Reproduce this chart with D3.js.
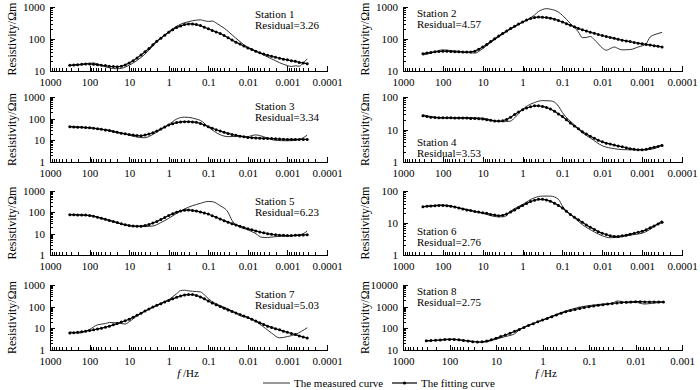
<!DOCTYPE html>
<html>
<head>
<meta charset="utf-8">
<script src="https://cdn.jsdelivr.net/npm/d3@7"></script>
<style>
    body { margin: 0; background: #fff; }
    svg { display: block; font-family: "Liberation Serif", "Times New Roman", serif; }
    .axis path, .axis line { stroke: #000; stroke-width: 1px; shape-rendering: crispEdges; }
    .axis text { font-size: 11px; fill: #000; font-family: "Liberation Serif", "Times New Roman", serif; }
    .label { font-size: 11px; fill: #000; }
</style>
</head>
<body>
<div id="chart"></div>
<script>

// Frequencies (Hz), 10 per decade, shared by the fitting curves
const freqs = [316, 251, 200, 158, 126, 100, 79.4, 63.1, 50.1, 39.8, 31.6, 25.1, 20, 15.8, 12.6, 10, 7.94, 6.31, 5.01, 3.98,
    3.16, 2.51, 2, 1.58, 1.26, 1, 0.794, 0.631, 0.501, 0.398, 0.316, 0.251, 0.2, 0.158, 0.126, 0.1, 0.0794, 0.0631, 0.0501, 0.0398,
    0.0316, 0.0251, 0.02, 0.0158, 0.0126, 0.01, 0.00794, 0.00631, 0.00501, 0.00398, 0.00316, 0.00251, 0.002, 0.00158, 0.00126,
    0.001, 0.000794, 0.000631, 0.000501, 0.000398, 0.000316];

// Tick labels
const xTicksWide = [1000, 100, 10, 1, 0.1, 0.01, 0.001, 0.0001];
const xTicksP8 = [1000, 100, 10, 1, 0.1, 0.01, 0.001];
const stations = ["Station 1", "Station 2", "Station 3", "Station 4", "Station 5", "Station 6", "Station 7", "Station 8"];
const residuals = ["3.26", "4.57", "3.34", "3.53", "6.23", "2.76", "5.03", "2.75"];

// Fitting curves (resistivity, Ωm) at freqs
const fit1 = [15.1, 15.5, 15.8, 16.2, 16.6, 16.6, 16.2, 15.8, 15.1, 14.8, 14.1, 13.8, 13.5, 14.1, 15.5, 17.8, 20.9, 25.7, 31.6, 39.8,
    50.1, 66.1, 85.1, 105, 132, 162, 195, 229, 257, 282, 295, 295, 282, 263, 234, 209, 186, 166, 148, 129,
    110, 93.3, 79.4, 69.2, 60.3, 52.5, 46.8, 41.7, 37.2, 33.9, 30.9, 28.8, 26.9, 25.1, 23.4, 22.4, 20.9, 20, 18.6, 17.8, 17];
const fit2 = [34.7, 36.3, 38, 39.8, 40.7, 41.7, 41.7, 40.7, 39.8, 39.8, 38.9, 38.9, 38.9, 41.7, 47.9, 56.2, 67.6, 83.2, 102, 123,
    148, 178, 214, 251, 295, 339, 389, 437, 468, 490, 479, 468, 447, 417, 380, 339, 302, 269, 240, 214,
    195, 178, 162, 151, 138, 129, 120, 112, 105, 97.7, 91.2, 87.1, 83.2, 77.6, 74.1, 70.8, 67.6, 64.6, 61.7, 58.9, 56.2];
const fit3 = [42.7, 41.7, 40.7, 39.8, 38.9, 38, 36.3, 33.9, 32.4, 30.2, 28.2, 25.7, 23.4, 21.4, 20, 18.6, 17.4, 16.6, 16.2, 17.4,
    19.5, 22.4, 26.9, 33.1, 41.7, 51.3, 58.9, 66.1, 70.8, 72.4, 72.4, 70.8, 67.6, 60.3, 51.3, 42.7, 36.3, 30.9, 26.9, 23.4,
    20.9, 18.6, 17, 15.5, 14.5, 13.5, 13.2, 12.9, 12.6, 12.3, 12.3, 12, 11.7, 11.5, 11.2, 11, 11, 11, 11, 11, 11];
const fit4 = [26.3, 25.1, 24, 23.4, 22.9, 22.9, 22.9, 22.9, 22.4, 22.4, 22.4, 22.4, 21.9, 21.9, 21.4, 20.9, 20, 19.1, 18.2, 18.2,
    18.6, 20.4, 24, 28.8, 34.7, 40.7, 45.7, 50.1, 53.7, 53.7, 51.3, 47.9, 42.7, 36.3, 30.2, 25.1, 20, 15.8, 12.9, 10.5,
    8.51, 7.24, 6.17, 5.37, 4.68, 4.17, 3.8, 3.55, 3.31, 3.09, 2.95, 2.75, 2.57, 2.45, 2.4, 2.4, 2.45, 2.63, 2.82, 3.02, 3.24];
const fit5 = [77.6, 77.6, 75.9, 75.9, 74.1, 70.8, 66.1, 58.9, 52.5, 46.8, 41.7, 37.2, 33.1, 28.8, 26.3, 24, 22.9, 22.4, 22.4, 24,
    26.9, 31.6, 37.2, 45.7, 57.5, 70.8, 85.1, 102, 117, 126, 129, 123, 115, 105, 93.3, 83.2, 69.2, 58.9, 49, 40.7,
    34.7, 29.5, 25.7, 22.4, 19.5, 17, 15.1, 13.5, 12, 11, 10, 9.33, 8.91, 8.51, 8.32, 8.13, 8.13, 8.32, 8.51, 8.71, 8.91];
const fit6 = [32.4, 33.1, 33.9, 34.7, 35.5, 35.5, 34.7, 33.1, 31.6, 29.5, 27.5, 25.7, 24.5, 22.9, 21.9, 20.9, 20, 18.6, 17.8, 17,
    17.4, 19.1, 21.9, 25.7, 30.2, 35.5, 40.7, 46.8, 51.3, 55, 55, 52.5, 47.9, 41.7, 35.5, 29.5, 23.4, 18.6, 15.1, 12.6,
    10.5, 8.71, 7.41, 6.31, 5.37, 4.79, 4.37, 3.98, 3.8, 3.8, 3.98, 4.17, 4.47, 4.79, 5.13, 5.5, 6.17, 7.08, 8.13, 9.33, 10.5];
const fit7 = [6.17, 6.31, 6.61, 6.92, 7.41, 7.94, 8.51, 9.33, 10.2, 11.2, 12.6, 14.5, 16.6, 19.5, 22.4, 26.3, 32.4, 39.8, 50.1, 63.1,
    77.6, 95.5, 115, 138, 166, 195, 229, 269, 309, 347, 363, 363, 331, 282, 229, 182, 148, 123, 102, 85.1,
    70.8, 60.3, 51.3, 43.7, 37.2, 31.6, 26.3, 21.9, 18.2, 15.1, 12.6, 11, 9.55, 8.51, 7.41, 6.61, 5.75, 5.13, 4.47, 3.98, 3.55];
const fit8 = [26.9, 27.5, 28.2, 28.8, 30.2, 30.9, 30.9, 29.5, 27.5, 25.7, 24, 23.4, 24, 25.7, 29.5, 34.7, 41.7, 49, 58.9, 72.4,
    89.1, 110, 135, 162, 200, 240, 288, 347, 417, 501, 589, 661, 741, 832, 912, 1000, 1070, 1150, 1230, 1320,
    1410, 1480, 1550, 1620, 1660, 1700, 1700, 1660, 1660, 1660, 1660, 1660];

// Measured curves: own frequencies + resistivity
const measF1 = freqs;
const meas1 = [14.8, 15.1, 15.5, 15.8, 16.6, 17.4, 17.8, 16.6, 14.8, 13.5, 12.6, 12, 11.7, 12, 13.2, 15.1, 17.8, 21.4, 26.3, 33.9,
    44.7, 60.3, 83.2, 107, 135, 170, 209, 251, 288, 324, 347, 372, 389, 398, 372, 355, 363, 316, 263, 219,
    174, 135, 105, 83.2, 66.1, 55, 47.9, 41.7, 36.3, 31.6, 27.5, 24, 20.9, 18.2, 16.2, 14.8, 13.8, 14.5, 14.1, 17.8, 24];
const measF2 = [316, 200, 100, 63.1, 31.6, 15.8, 10, 5.01, 3.16, 1.58, 1, 0.631, 0.501, 0.398, 0.316, 0.251, 0.2, 0.158, 0.126, 0.1,
    0.0631, 0.0398, 0.0316, 0.0251, 0.02, 0.0158, 0.0126, 0.01, 0.00794, 0.00631, 0.00501, 0.00398, 0.00316, 0.002, 0.00126,
    0.000794, 0.000631, 0.000398, 0.000316];
const meas2 = [31.6, 36.3, 45.7, 43.7, 39.8, 36.3, 50.1, 95.5, 141, 240, 331, 457, 562, 724, 832, 891, 851, 794, 692, 550,
    302, 166, 110, 112, 120, 95.5, 70.8, 52.5, 44.7, 50.1, 56.2, 50.1, 45.7, 46.8, 56.2, 70.8, 115, 148, 162];
const measF3 = [316, 100, 31.6, 10, 6.31, 3.98, 3.16, 2, 1, 0.631, 0.501, 0.398, 0.316, 0.2, 0.158, 0.1, 0.0501, 0.0316, 0.0158, 0.01,
    0.00794, 0.00631, 0.00501, 0.00316, 0.002, 0.001, 0.000631, 0.000398, 0.000316];
const meas3 = [42.7, 38, 28.2, 17.4, 14.1, 13.2, 15.1, 24, 53.7, 95.5, 112, 117, 115, 95.5, 83.2, 41.7, 18.2, 14.8, 15.5, 14.8,
    16.6, 17.8, 16.6, 12.6, 10, 9.55, 10, 13.2, 17.4];
const measF4 = [316, 158, 100, 31.6, 10, 5.01, 3.16, 2, 1.58, 1, 0.631, 0.501, 0.316, 0.2, 0.158, 0.126, 0.1, 0.0501, 0.0316, 0.02,
    0.01, 0.00501, 0.00316, 0.001, 0.000501, 0.000316];
const meas4 = [28.2, 24, 22.9, 23.4, 22.4, 18.6, 17.4, 18.2, 22.9, 41.7, 60.3, 67.6, 77.6, 75.9, 69.2, 52.5, 33.1, 13.8, 7.94, 5.5,
    3.16, 2.57, 2.4, 2.34, 2.57, 3.55];
const measF5 = [316, 100, 31.6, 10, 5.01, 2.51, 1.58, 1, 0.631, 0.398, 0.251, 0.158, 0.1, 0.0794, 0.0501, 0.0316, 0.0251, 0.0158,
    0.01, 0.00631, 0.00447, 0.00316, 0.00158, 0.001, 0.000631, 0.000398, 0.000316];
const meas5 = [77.6, 70.8, 41.7, 23.4, 21.4, 22.9, 33.1, 52.5, 89.1, 145, 204, 263, 324, 316, 204, 100, 41.7, 20.4, 15.1, 10,
    6.76, 6.61, 7.59, 7.59, 8.32, 10, 13.2];
const measF6 = [316, 100, 31.6, 10, 3.98, 2.82, 2, 1, 0.501, 0.316, 0.2, 0.126, 0.1, 0.0501, 0.0316, 0.0158, 0.01, 0.00631, 0.00398,
    0.00251, 0.00158, 0.001, 0.000631, 0.000398, 0.000316];
const meas6 = [32.4, 36.3, 28.2, 20, 15.5, 15.8, 23.4, 38, 61.7, 69.2, 69.2, 55, 33.9, 14.5, 8.91, 5.25, 3.98, 3.47, 3.55,
    3.98, 4.37, 4.79, 6.31, 9.55, 12];
const measF7 = [316, 200, 126, 100, 63.1, 39.8, 31.6, 20, 12.6, 10, 6.31, 3.16, 1.58, 1, 0.631, 0.501, 0.398, 0.316, 0.251, 0.158,
    0.126, 0.1, 0.0501, 0.0316, 0.02, 0.0158, 0.01, 0.00501, 0.00251, 0.00158, 0.001, 0.000631, 0.000316];
const meas7 = [6.92, 6.03, 7.24, 8.91, 14.5, 16.6, 18.6, 17.8, 15.8, 20, 38, 75.9, 141, 209, 398, 550, 575, 537, 513, 479,
    355, 234, 112, 79.4, 50.1, 38, 31.6, 15.8, 6.03, 3.63, 4.17, 5.25, 10.7];
const measF8 = [316, 158, 100, 63.1, 31.6, 20, 10, 6.31, 3.98, 3.16, 1, 0.316, 0.158, 0.1, 0.0501, 0.0316, 0.0251, 0.02, 0.0158,
    0.01, 0.00631, 0.00398, 0.00251];
const meas8 = [25.1, 29.5, 31.6, 30.2, 25.1, 22.4, 31.6, 41.7, 56.2, 83.2, 240, 631, 955, 1120, 1320, 1410, 1820, 1740, 1510,
    1580, 1320, 1480, 1580];


class StationVis {

    constructor(svg, cfg) {
        this.svg = svg;
        this.cfg = cfg;
        this.initVis();
    }

    initVis() {
        let vis = this;
        let c = vis.cfg;

        vis.g = vis.svg.append("g").attr("class", "panel");

        // Scales (frequency decreases to the right)
        vis.x = d3.scaleLog()
            .domain([c.xTicks[0], c.xTicks[c.xTicks.length - 1]])
            .range([c.left, c.right]);
        vis.y = d3.scaleLog()
            .domain(c.yDomain)
            .range([c.bottom, c.top]);

        let isMajor = d => Math.abs(Math.log10(d) - Math.round(Math.log10(d))) < 1e-6;

        // Minor ticks
        vis.g.append("g")
            .attr("class", "axis")
            .attr("transform", `translate(0, ${c.bottom})`)
            .call(d3.axisBottom(vis.x).tickValues(vis.x.ticks().filter(d => !isMajor(d)))
                .tickSizeInner(-3).tickSizeOuter(0).tickFormat(""))
            .select(".domain").remove();
        vis.g.append("g")
            .attr("class", "axis")
            .attr("transform", `translate(${c.left}, 0)`)
            .call(d3.axisLeft(vis.y).tickValues(vis.y.ticks().filter(d => !isMajor(d)))
                .tickSizeInner(-3).tickSizeOuter(0).tickFormat(""))
            .select(".domain").remove();

        // Major ticks + labels
        vis.g.append("g")
            .attr("class", "axis")
            .attr("transform", `translate(0, ${c.bottom})`)
            .call(d3.axisBottom(vis.x).tickValues(c.xTicks)
                .tickSizeInner(-5).tickSizeOuter(0).tickPadding(7).tickFormat(d => String(d)));
        vis.g.append("g")
            .attr("class", "axis")
            .attr("transform", `translate(${c.left}, 0)`)
            .call(d3.axisLeft(vis.y).tickValues(c.yTicks)
                .tickSizeInner(-5).tickSizeOuter(0).tickPadding(5).tickFormat(d => String(d)));

        // Y label
        vis.g.append("text")
            .attr("transform", `translate(${c.left - 38}, ${(c.top + c.bottom) / 2}) rotate(-90)`)
            .attr("text-anchor", "middle")
            .attr("dy", "0.35em")
            .style("font-size", "12px")
            .text("Resistivity/Ωm");

        // Station / residual
        vis.g.append("text").attr("class", "label")
            .attr("x", c.textX).attr("y", c.textY)
            .text(c.station);
        vis.g.append("text").attr("class", "label")
            .attr("x", c.textX).attr("y", c.textY + 10.5)
            .text("Residual=" + c.residual);

        vis.wrangleData();
    }

    wrangleData() {
        let vis = this;
        vis.fitData = vis.cfg.fit.map((r, i) => ({f: freqs[i], r: r}));
        vis.measData = vis.cfg.meas.map((r, i) => ({f: vis.cfg.measF[i], r: r}));
        vis.updateVis();
    }

    updateVis() {
        let vis = this;

        let measLine = d3.line()
            .curve(d3.curveMonotoneX)
            .x(d => vis.x(d.f))
            .y(d => vis.y(d.r));
        let fitLine = d3.line()
            .x(d => vis.x(d.f))
            .y(d => vis.y(d.r));

        vis.g.append("path")
            .datum(vis.measData)
            .attr("fill", "none")
            .attr("stroke", "#1a1a1a")
            .attr("stroke-width", 0.9)
            .attr("d", measLine);

        vis.g.append("path")
            .datum(vis.fitData)
            .attr("fill", "none")
            .attr("stroke", "#000")
            .attr("stroke-width", 1.2)
            .attr("d", fitLine);

        vis.g.selectAll(".dot")
            .data(vis.fitData)
            .enter().append("circle")
            .attr("class", "dot")
            .attr("cx", d => vis.x(d.f))
            .attr("cy", d => vis.y(d.r))
            .attr("r", 1.5)
            .attr("fill", "#000");
    }
}


let svg = d3.select("#chart").append("svg")
    .attr("width", 700)
    .attr("height", 390);

let colL = {left: 50, right: 327};
let colR = {left: 403, right: 682};
let rows = [{top: 7, bottom: 71}, {top: 97, bottom: 162}, {top: 191, bottom: 255}, {top: 285, bottom: 350}];

let panels = [
    {col: colL, row: rows[0], xTicks: xTicksWide, yDomain: [10, 1000], yTicks: [10, 100, 1000], fit: fit1, meas: meas1, measF: measF1, textX: 255, textY: 18},
    {col: colR, row: rows[0], xTicks: xTicksWide, yDomain: [10, 1000], yTicks: [10, 100, 1000], fit: fit2, meas: meas2, measF: measF2, textX: 417, textY: 17},
    {col: colL, row: rows[1], xTicks: xTicksWide, yDomain: [1, 1000], yTicks: [1, 10, 100, 1000], fit: fit3, meas: meas3, measF: measF3, textX: 255, textY: 110},
    {col: colR, row: rows[1], xTicks: xTicksWide, yDomain: [1, 100], yTicks: [1, 10, 100], fit: fit4, meas: meas4, measF: measF4, textX: 417, textY: 146},
    {col: colL, row: rows[2], xTicks: xTicksWide, yDomain: [1, 1000], yTicks: [1, 10, 100, 1000], fit: fit5, meas: meas5, measF: measF5, textX: 255, textY: 205},
    {col: colR, row: rows[2], xTicks: xTicksWide, yDomain: [1, 100], yTicks: [1, 10, 100], fit: fit6, meas: meas6, measF: measF6, textX: 417, textY: 235},
    {col: colL, row: rows[3], xTicks: xTicksWide, yDomain: [1, 1000], yTicks: [1, 10, 100, 1000], fit: fit7, meas: meas7, measF: measF7, textX: 255, textY: 298},
    {col: colR, row: rows[3], xTicks: xTicksP8, yDomain: [10, 10000], yTicks: [10, 100, 1000, 10000], fit: fit8, meas: meas8, measF: measF8, textX: 417, textY: 295}
];

panels.forEach((p, i) => {
    new StationVis(svg, Object.assign({}, p, {
        left: p.col.left, right: p.col.right, top: p.row.top, bottom: p.row.bottom,
        station: stations[i], residual: residuals[i]
    }));
});

// x labels
[188, 546].forEach(cx => {
    let t = svg.append("text")
        .attr("x", cx).attr("y", 377)
        .attr("text-anchor", "middle")
        .style("font-size", "11px");
    t.append("tspan").style("font-style", "italic").text("f");
    t.append("tspan").text(" /Hz");
});

// Legend
let legend = svg.append("g").attr("class", "legend");
legend.append("line")
    .attr("x1", 263).attr("x2", 290).attr("y1", 383).attr("y2", 383)
    .attr("stroke", "#1a1a1a").attr("stroke-width", 0.9);
legend.append("text").attr("class", "label")
    .attr("x", 294).attr("y", 387)
    .text("The measured curve");
legend.append("line")
    .attr("x1", 392).attr("x2", 417).attr("y1", 383).attr("y2", 383)
    .attr("stroke", "#000").attr("stroke-width", 1.2);
legend.append("circle")
    .attr("cx", 404.5).attr("cy", 383).attr("r", 1.6).attr("fill", "#000");
legend.append("text").attr("class", "label")
    .attr("x", 421).attr("y", 387)
    .text("The fitting curve");

</script>
</body>
</html>
